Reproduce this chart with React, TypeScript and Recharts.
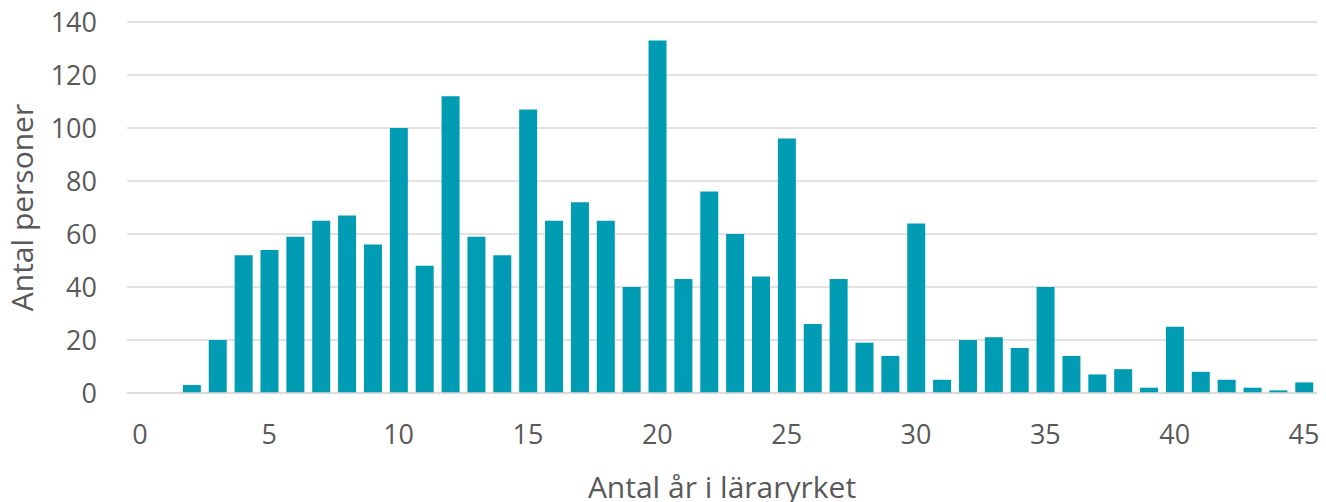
import { BarChart, Bar, XAxis, YAxis, CartesianGrid } from "recharts";

const years = Array.from({ length: 46 }, (_, i) => String(i));
const persons = [
  0, 0, 3, 20, 52, 54, 59, 65, 67, 56, 100, 48, 112, 59, 52, 107, 65, 72, 65, 40,
  133, 43, 76, 60, 44, 96, 26, 43, 19, 14, 64, 5, 20, 21, 17, 40, 14, 7, 9, 2,
  25, 8, 5, 2, 1, 4,
];
const yTicks = [0, 20, 40, 60, 80, 100, 120, 140];

const data = years.map((year, i) => ({ year, persons: persons[i] }));

const font = "Open Sans, Liberation Sans, sans-serif";
const grey = "#595959";

export default function App() {
  return (
    <div style={{ position: "absolute", left: 0, top: 0, background: "#fff" }}>
      <BarChart
        width={1326}
        height={502}
        data={data}
        margin={{ top: 22, right: 9, left: 0, bottom: 0 }}
        barCategoryGap="16%"
      >
        <CartesianGrid vertical={false} stroke="#d9d9d9" strokeWidth={1.5} />
        <XAxis
          dataKey="year"
          interval={4}
          height={109}
          tickLine={false}
          axisLine={{ stroke: "#d9d9d9", strokeWidth: 1.5 }}
          tick={{ fontSize: 27, fill: grey, fontFamily: font }}
          tickMargin={26}
          label={{
            value: "Antal år i läraryrket",
            position: "insideBottom",
            offset: 4,
            style: { fontSize: 30, fill: grey, fontFamily: font },
          }}
        />
        <YAxis
          domain={[0, 140]}
          ticks={yTicks}
          width={127}
          axisLine={false}
          tickLine={false}
          tickMargin={24}
          tick={{ fontSize: 27, fill: grey, fontFamily: font }}
          label={{
            value: "Antal personer",
            angle: -90,
            position: "insideLeft",
            offset: 22,
            style: { textAnchor: "middle", fontSize: 30, fill: grey, fontFamily: font },
          }}
        />
        <Bar dataKey="persons" fill="#009cb4" isAnimationActive={false} />
      </BarChart>
    </div>
  );
}
